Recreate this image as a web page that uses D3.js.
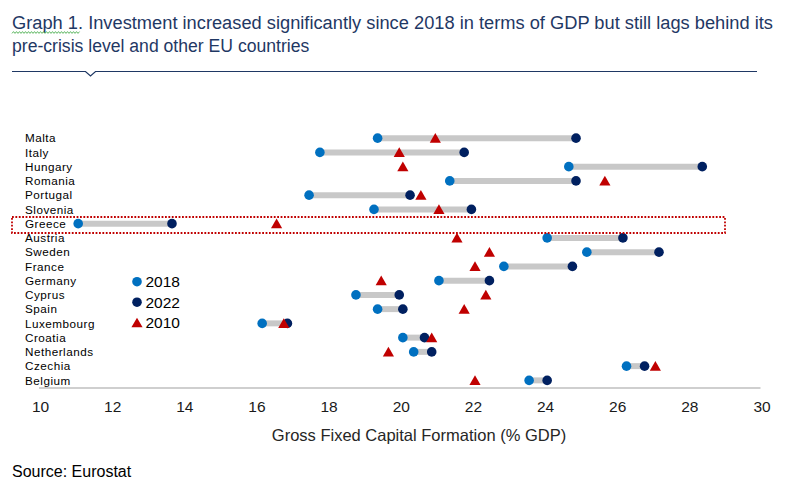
<!DOCTYPE html>
<html>
<head>
<meta charset="utf-8">
<script src="https://cdn.jsdelivr.net/npm/d3@7"></script>
<style>
  html, body { margin: 0; padding: 0; background: #fff; }
  svg { display: block; font-family: "Liberation Sans", Arial, sans-serif; }
</style>
</head>
<body>
<svg id="chart" width="791" height="491"></svg>
<script>
// ---- data ----
const countries = ["Malta","Italy","Hungary","Romania","Portugal","Slovenia","Greece","Austria","Sweden","France","Germany","Cyprus","Spain","Luxembourg","Croatia","Netherlands","Czechia","Belgium"];
const values2018 = [19.4, 17.8, 24.7, 21.4, 17.5, 19.3, 11.1, 24.1, 25.2, 22.9, 21.1, 18.8, 19.4, 16.2, 20.1, 20.4, 26.3, 23.6];
const values2022 = [24.9, 21.8, 28.4, 24.9, 20.3, 22.0, 13.7, 26.2, 27.2, 24.8, 22.5, 20.0, 20.1, 16.9, 20.7, 20.9, 26.8, 24.1];
const values2010 = [21.0, 20.0, 20.1, 25.7, 20.6, 21.1, 16.6, 21.6, 22.5, 22.1, 19.5, 22.4, 21.8, 16.8, 20.9, 19.7, 27.1, 22.1];
const xTicks = [10, 12, 14, 16, 18, 20, 22, 24, 26, 28, 30];
const legendLabels = ["2018", "2022", "2010"];
const highlighted = "Greece";
const titleLines = ["Graph 1. Investment increased significantly since 2018 in terms of GDP but still lags behind its",
                    "pre-crisis level and other EU countries"];
const xTitle = "Gross Fixed Capital Formation (% GDP)";
const sourceText = "Source: Eurostat";

const C2018 = "#0070c0", C2022 = "#002060", C2010 = "#c00000", NAVY = "#1f3864";

const rows = countries.map((c, i) => ({c, a: values2018[i], b: values2022[i], t: values2010[i]}));

const svg = d3.select("#chart");

// ---- title ----
const title = svg.append("text").attr("fill", NAVY).attr("font-size", 17.6);
titleLines.forEach((l, i) => {
  const ts = title.append("tspan").attr("x", 12).attr("y", 29 + i * 22.5).text(l);
  if (i === 0) ts.attr("textLength", 761).attr("lengthAdjust", "spacingAndGlyphs");
});
// spell-check style wavy underline under "Graph 1."
svg.append("path")
  .attr("d", d3.range(12, 81, 1.5).map((x, i) => (i ? "L" : "M") + x + "," + (i % 2 ? 31.6 : 33.4)).join(""))
  .attr("fill", "none").attr("stroke", "#4caf50").attr("stroke-width", 0.9);
// separator with notch
svg.append("path")
  .attr("d", "M12,71.5 H85.5 L90.5,76 L95.5,71.5 H757")
  .attr("fill", "none").attr("stroke", NAVY).attr("stroke-width", 1.2);

// ---- scales ----
const x = d3.scaleLinear().domain([10, 30]).range([38.5, 760]);
const y = d3.scaleBand().domain(countries).range([131, 387.5]).padding(0);
const cy = c => y(c) + y.bandwidth() / 2;

// ---- x axis ----
const ax = svg.append("g").attr("transform", "translate(0,387.5)")
  .call(d3.axisBottom(x).tickValues(xTicks).tickSize(0).tickPadding(13).tickFormat(d3.format("d")));
ax.select(".domain").attr("stroke", "#bfbfbf").attr("stroke-width", 1.3);
ax.selectAll(".tick text").attr("font-size", 15.5).attr("fill", "#1a1a1a")
  .attr("font-family", "Liberation Sans, Arial, sans-serif").attr("dx", 1.5);

svg.append("text").attr("x", 419).attr("y", 441).attr("text-anchor", "middle")
  .attr("font-size", 16.5).attr("fill", "#262626").text(xTitle);
svg.append("text").attr("x", 12).attr("y", 477).attr("font-size", 16).attr("fill", "#000").text(sourceText);

// ---- country labels ----
svg.append("g").selectAll("text").data(countries).join("text")
  .attr("x", 25).attr("y", d => cy(d)).attr("dy", "0.36em")
  .attr("font-size", 11.7).attr("letter-spacing", 0.5).attr("fill", "#000")
  .text(d => d);

// ---- bars ----
svg.append("g").selectAll("line").data(rows).join("line")
  .attr("x1", d => x(d.a)).attr("x2", d => x(d.b))
  .attr("y1", d => cy(d.c)).attr("y2", d => cy(d.c))
  .attr("stroke", "#c8c8c8").attr("stroke-width", 6);

// ---- points ----
svg.append("g").selectAll("circle").data(rows).join("circle")
  .attr("cx", d => x(d.a)).attr("cy", d => cy(d.c)).attr("r", 4.8).attr("fill", C2018);
svg.append("g").selectAll("circle").data(rows).join("circle")
  .attr("cx", d => x(d.b)).attr("cy", d => cy(d.c)).attr("r", 4.8).attr("fill", C2022);

const tri = d3.symbol().type(d3.symbolTriangle).size(54);
svg.append("g").selectAll("path").data(rows).join("path")
  .attr("d", tri)
  .attr("transform", d => `translate(${x(d.t)},${cy(d.c) + 1.4})`)
  .attr("fill", C2010);

// ---- highlight box ----
svg.append("rect")
  .attr("x", 12).attr("y", y(highlighted) + 0.5)
  .attr("width", 713).attr("height", 16)
  .attr("fill", "none").attr("stroke", C2010).attr("stroke-width", 1.8)
  .attr("stroke-dasharray", "1.8,1.6");

// ---- legend ----
const legColors = [C2018, C2022, C2010];
const lg = svg.append("g");
legendLabels.forEach((lab, i) => {
  const ly = 281.7 + i * 20.5;
  if (i < 2) {
    lg.append("circle").attr("cx", 137).attr("cy", ly).attr("r", 4.8).attr("fill", legColors[i]);
  } else {
    lg.append("path").attr("d", tri).attr("transform", `translate(137,${ly + 1.4})`).attr("fill", legColors[i]);
  }
  lg.append("text").attr("x", 145.5).attr("y", ly).attr("dy", "0.36em")
    .attr("font-size", 15.5).attr("fill", "#000").text(lab);
});
</script>
</body>
</html>
